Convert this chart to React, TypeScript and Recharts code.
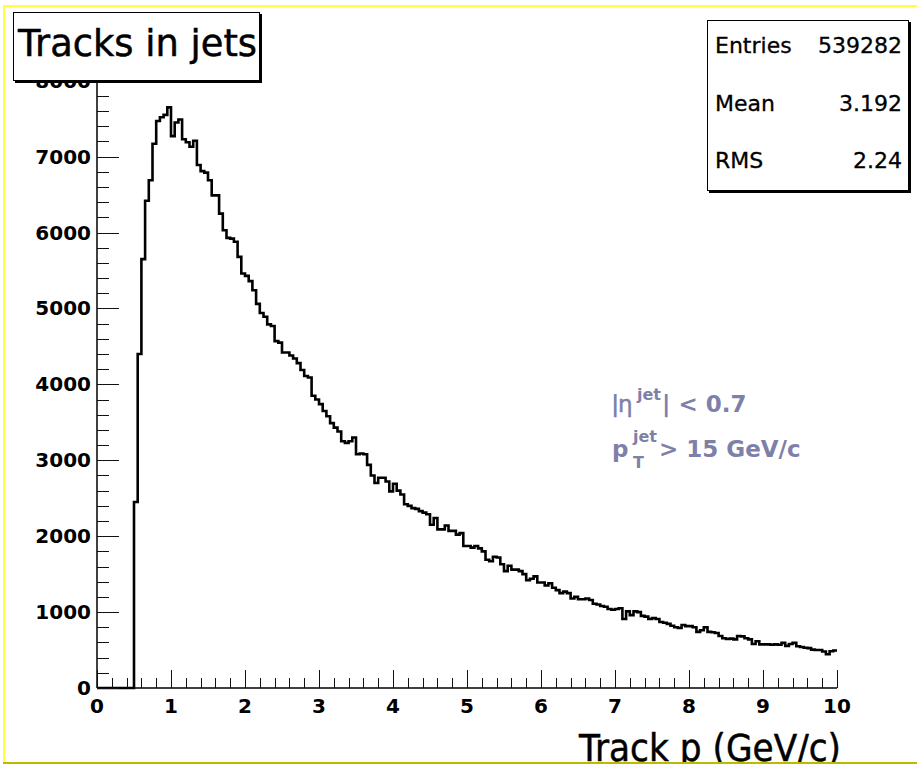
import { LineChart, Line, XAxis, YAxis } from "recharts";

// bin contents, 200 bins of 0.05 GeV/c from 0 to 10
const BIN_WIDTH = 0.05;
const counts = [
  0, 0, 0, 0, 0, 0, 0, 0, 0, 0,
  2450, 4400, 5650, 6420, 6690, 7170, 7470, 7520, 7550, 7650,
  7270, 7450, 7490, 7230, 7190, 7130, 7210, 6890, 6810, 6790,
  6690, 6490, 6490, 6250, 6030, 5930, 5920, 5880, 5680, 5460,
  5430, 5360, 5240, 5060, 4940, 4890, 4790, 4770, 4570, 4550,
  4420, 4420, 4380, 4340, 4280, 4190, 4110, 4090, 3850, 3800,
  3740, 3650, 3580, 3490, 3430, 3380, 3250, 3230, 3250, 3300,
  3080, 3090, 3080, 2940, 2800, 2700, 2770, 2770, 2720, 2590,
  2690, 2600, 2550, 2420, 2400, 2370, 2360, 2330, 2310, 2290,
  2150, 2240, 2090, 2090, 2140, 2070, 2070, 2020, 2040, 1870,
  1870, 1850, 1870, 1840, 1800, 1690, 1670, 1730, 1720, 1630,
  1540, 1610, 1560, 1560, 1540, 1500, 1420, 1440, 1470, 1390,
  1390, 1350, 1380, 1320, 1290, 1250, 1270, 1250, 1180, 1200,
  1170, 1170, 1180, 1160, 1110, 1100, 1080, 1070, 1040, 1030,
  1040, 1050, 910, 1010, 960, 1010, 1000, 950, 940, 910,
  920, 910, 870, 860, 845, 820, 800, 790, 830, 815,
  815, 800, 740, 760, 800, 740, 735, 725, 685, 655,
  645, 650, 640, 685, 680, 655, 640, 580, 615, 575,
  575, 575, 570, 575, 570, 595, 555, 580, 595, 550,
  540, 530, 525, 505, 500, 500, 480, 445, 485, 495,
];

const xMajor = [0, 1, 2, 3, 4, 5, 6, 7, 8, 9, 10];
const yMajor = [0, 1000, 2000, 3000, 4000, 5000, 6000, 7000, 8000];
const X_MAX = 10;
const Y_MAX = 8010;

const statsRows = [
  ["Entries", "539282"],
  ["Mean", "3.192"],
  ["RMS", "2.24"],
];

const xMinor: number[] = [];
for (let i = 0; i <= 50; i++) xMinor.push(+(i * 0.2).toFixed(1));
const yMinor: number[] = [];
for (let i = 0; i <= 40; i++) yMinor.push(i * 200);

const data = counts.map((v, i) => ({ x: +(i * BIN_WIDTH).toFixed(2), v }));
data.push({ x: X_MAX, v: counts[counts.length - 1] });

// frame geometry (same numbers as the chart margins / axis sizes)
const W = 917;
const H = 764;
const M = { top: 80, right: 80, left: 97, bottom: 76 };
const plotL = M.left;
const plotR = W - M.right;
const plotB = H - M.bottom;
const plotT = M.top;
const px = (v: number) => Math.round(plotL + (v / X_MAX) * (plotR - plotL)) + 0.5;
const py = (v: number) => Math.round(plotB - (v / Y_MAX) * (plotB - plotT)) + 0.5;

const tickFont = { fontFamily: "DejaVu Sans", fontWeight: 700, fontSize: 20 };

function XTick(props: any) {
  const { x, y, payload } = props;
  if (!xMajor.includes(payload.value)) return <g />;
  return (
    <text x={x} y={y + 18} textAnchor="middle" dominantBaseline="central" fill="#000" {...tickFont}>
      {payload.value}
    </text>
  );
}

function YTick(props: any) {
  const { x, y, payload } = props;
  if (!yMajor.includes(payload.value)) return <g />;
  return (
    <text x={x - 6} y={y} textAnchor="end" dominantBaseline="central" fill="#000" {...tickFont}>
      {payload.value}
    </text>
  );
}

export default function App() {
  const note = { fontFamily: "DejaVu Sans", fontWeight: 700, fill: "#7e80a8" };
  const heavy = { stroke: "#000", strokeWidth: 0.5 };
  return (
    <div style={{ position: "absolute", left: 0, top: 0, width: W, height: H, background: "#fff", overflow: "hidden" }}>
      <LineChart width={W} height={H} data={data} margin={{ top: M.top, right: M.right, bottom: 0, left: 0 }}>
        <XAxis
          dataKey="x"
          type="number"
          domain={[0, X_MAX]}
          ticks={xMajor}
          interval={0}
          height={M.bottom}
          tickSize={0}
          tickMargin={0}
          tickLine={false}
          axisLine={{ stroke: "#000", strokeWidth: 1.5 }}
          tick={<XTick />}
        />
        <XAxis xAxisId="frameTop" orientation="top" type="number" dataKey="x" domain={[0, X_MAX]} height={0} tick={false} tickLine={false} axisLine={{ stroke: "#000", strokeWidth: 1 }} />
        <YAxis
          type="number"
          domain={[0, Y_MAX]}
          ticks={yMajor}
          interval={0}
          width={M.left}
          tickSize={0}
          tickMargin={0}
          tickLine={false}
          axisLine={{ stroke: "#000", strokeWidth: 1.5 }}
          tick={<YTick />}
        />
        <YAxis yAxisId="frameRight" orientation="right" type="number" domain={[0, Y_MAX]} width={0} tick={false} tickLine={false} axisLine={{ stroke: "#000", strokeWidth: 1 }} />
        <Line type="stepAfter" dataKey="v" stroke="#000" strokeWidth={2.6} dot={false} isAnimationActive={false} />
      </LineChart>

      <svg width={W} height={H} style={{ position: "absolute", left: 0, top: 0, pointerEvents: "none" }}>
        {/* inward ticks, ROOT style */}
        <g stroke="#111" strokeWidth={1.6} shapeRendering="crispEdges">
          {xMinor.map((t) => (
            <line key={"xt" + t} x1={px(t)} x2={px(t)} y1={plotB} y2={plotB - (xMajor.includes(t) ? 18 : 10)} />
          ))}
          {yMinor.map((t) => (
            <line key={"yt" + t} x1={plotL} x2={plotL + (yMajor.includes(t) ? 22 : 12)} y1={py(t)} y2={py(t)} />
          ))}
        </g>

        {/* title box */}
        <rect x={15} y={14} width={247} height={69} fill="#000" />
        <rect x={13.5} y={12.5} width={246} height={68} fill="#fff" stroke="#000" strokeWidth={1} />
        <text x={18} y={56} fontFamily="DejaVu Sans" fontSize={38} textLength={239} lengthAdjust="spacingAndGlyphs" fill="#000" {...heavy}>
          Tracks in jets
        </text>

        {/* stats box */}
        <rect x={709} y={22} width={202} height={171} fill="#000" />
        <rect x={707.5} y={20.5} width={201} height={170} fill="#fff" stroke="#000" strokeWidth={1} />
        {statsRows.map(([k, v], i) => (
          <g key={k} fontFamily="DejaVu Sans" fontSize={22} fill="#000" stroke="#000" strokeWidth={0.3}>
            <text x={715} y={53 + i * 57.5}>{k}</text>
            <text x={902} y={53 + i * 57.5} textAnchor="end">{v}</text>
          </g>
        ))}

        {/* cut annotations */}
        <text x={611} y={412} fontSize={23} {...note}>|</text>
        <text x={618} y={412} fontSize={23} fontFamily="DejaVu Sans" fill="#7e80a8" stroke="#7e80a8" strokeWidth={0.5}>η</text>
        <text x={637} y={400} fontSize={16} {...note}>jet</text>
        <text x={662} y={412} fontSize={23} {...note}>| &lt; 0.7</text>
        <text x={612} y={457} fontSize={23} {...note}>p</text>
        <text x={633} y={442} fontSize={16} {...note}>jet</text>
        <text x={633} y={468} fontSize={16} {...note}>T</text>
        <text x={659} y={457} fontSize={23} {...note}>&gt; 15 GeV/c</text>

        {/* axis title */}
        <text x={841} y={761} textAnchor="end" fontFamily="DejaVu Sans" fontSize={37} textLength={262} lengthAdjust="spacingAndGlyphs" fill="#000" {...heavy}>
          Track p (GeV/c)
        </text>

        {/* canvas border */}
        <rect x={3} y={5} width={914} height={2} fill="#ffff3c" />
        <rect x={3} y={5} width={2} height={758} fill="#ffff3c" />
        <rect x={3} y={762} width={914} height={2} fill="#bdb800" />
      </svg>
    </div>
  );
}
